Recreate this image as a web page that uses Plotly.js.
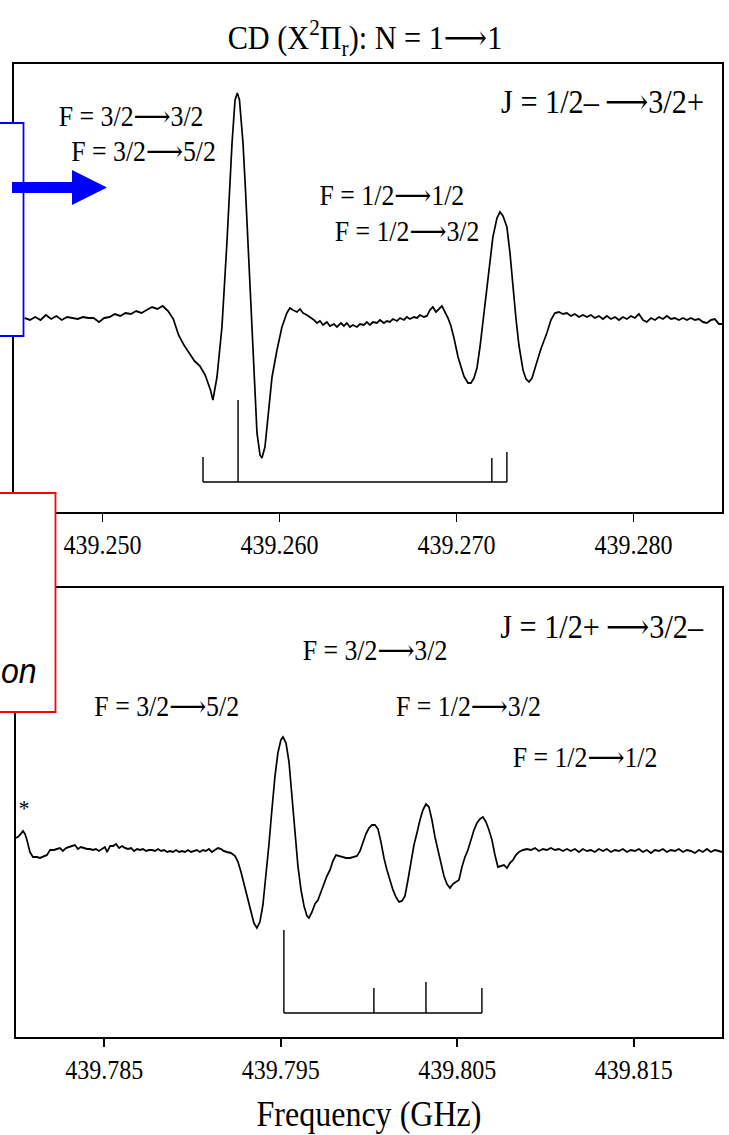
<!DOCTYPE html>
<html>
<head>
<meta charset="utf-8">
<script src="https://cdn.plot.ly/plotly-3.0.1.min.js"></script>
<style>
  html, body { margin: 0; padding: 0; background: #ffffff; overflow: hidden; }
  #wrap { width: 729px; height: 1135px; overflow: hidden; }
  /* the figure is laid out wider and condensed horizontally, giving the narrow serif lettering */
  #chart { transform-origin: 0 0; }
</style>
</head>
<body>
<div id="wrap"><div id="chart"></div></div>
<script>
// ---- J = 1/2- -> 3/2+ component (upper panel) ----
const freqUpper = [
  439.2456, 439.2459, 439.2462, 439.2465, 439.2468, 439.2471, 439.2474, 439.2477, 439.2480, 439.2483,
  439.2486, 439.2489, 439.2492, 439.2495, 439.2498, 439.2501, 439.2504, 439.2507, 439.2510, 439.2513,
  439.2516, 439.2519, 439.2522, 439.2525, 439.2528, 439.2531, 439.2534, 439.2537, 439.2540, 439.2543,
  439.2546, 439.2549, 439.2552, 439.2555, 439.2558, 439.2561, 439.25624, 439.25647, 439.25675, 439.25703,
  439.25718, 439.25732, 439.25749, 439.25762, 439.25774, 439.25794, 439.25808, 439.25822, 439.25850, 439.25873,
  439.25890, 439.25901, 439.25918, 439.25929, 439.25958, 439.25986, 439.26014, 439.26042, 439.26059, 439.26076,
  439.26099, 439.26116, 439.26133, 439.26155, 439.26172, 439.26195, 439.26212, 439.26229, 439.26246, 439.26268,
  439.26285, 439.26308, 439.26325, 439.26347, 439.26364, 439.26381, 439.26398, 439.26415, 439.26438, 439.26455,
  439.26477, 439.26494, 439.26511, 439.26528, 439.26551, 439.26568, 439.26590, 439.26607, 439.26624, 439.26641,
  439.26664, 439.26681, 439.26703, 439.26720, 439.26737, 439.26760, 439.26777, 439.26794, 439.26816, 439.26833,
  439.26850, 439.26867, 439.26884, 439.26901, 439.26918, 439.26935, 439.26952, 439.26969, 439.26986, 439.27009,
  439.27026, 439.27042, 439.27065, 439.27082, 439.27099, 439.27116, 439.27133, 439.27155, 439.27172, 439.27189,
  439.27206, 439.27229, 439.27246, 439.27263, 439.27285, 439.27302, 439.27319, 439.27336, 439.27353, 439.27376,
  439.27393, 439.27410, 439.27427, 439.27444, 439.27461, 439.27477, 439.27494, 439.27511, 439.27534, 439.27556,
  439.27579, 439.27602, 439.27624, 439.27647, 439.27669, 439.27692, 439.27715, 439.27737, 439.27760, 439.27782,
  439.27805, 439.27828, 439.27850, 439.27873, 439.27896, 439.27918, 439.27941, 439.27963, 439.27986, 439.28008,
  439.28031, 439.28054, 439.28076, 439.28099, 439.28122, 439.28144, 439.28167, 439.28189, 439.28212, 439.28234,
  439.28257, 439.28280, 439.28302, 439.28325, 439.28347, 439.28370, 439.28393, 439.28415, 439.28438, 439.28460,
  439.28483, 439.28500
];
const signalUpper = [
  0.02, 0.00, 0.03, 0.00, 0.05, 0.01, 0.04, 0.00, 0.03, 0.02,
  0.01, 0.03, 0.02, 0.02, -0.02, 0.02, 0.03, 0.06, 0.04, 0.07,
  0.06, 0.09, 0.07, 0.10, 0.13, 0.11, 0.14, 0.09, 0.01, -0.15,
  -0.25, -0.33, -0.41, -0.46, -0.55, -0.70, -0.80, -0.57, -0.07, 0.77,
  1.30, 1.77, 2.20, 2.27, 2.20, 1.77, 1.30, 0.77, -0.40, -1.13,
  -1.35, -1.38, -1.27, -1.07, -0.57, -0.30, -0.07, 0.07, 0.12, 0.10,
  0.08, 0.11, 0.07, 0.05, 0.03, 0.00, -0.03, -0.01, -0.05, -0.02,
  -0.06, -0.04, -0.07, -0.03, -0.06, -0.03, -0.07, -0.05, -0.07, -0.04,
  -0.05, -0.02, -0.05, -0.02, -0.03, 0.00, -0.03, -0.01, -0.02, 0.01,
  -0.01, 0.02, 0.00, 0.03, 0.01, 0.03, 0.02, 0.05, 0.03, 0.04,
  0.10, 0.13, 0.08, 0.11, 0.14, 0.08, 0.02, -0.06, -0.18, -0.37,
  -0.47, -0.56, -0.63, -0.63, -0.58, -0.48, -0.27, 0.05, 0.33, 0.58,
  0.83, 1.02, 1.08, 1.04, 0.93, 0.68, 0.33, 0.02, -0.25, -0.50,
  -0.59, -0.62, -0.58, -0.48, -0.37, -0.29, -0.21, -0.13, 0.00, 0.07,
  0.08, 0.06, 0.07, 0.04, 0.06, 0.03, 0.05, 0.03, 0.05, 0.02,
  0.04, 0.01, 0.04, 0.01, 0.03, 0.00, 0.03, 0.01, 0.04, 0.02,
  0.06, 0.00, -0.02, 0.02, 0.00, 0.03, 0.01, 0.04, 0.01, 0.02,
  0.00, 0.02, 0.00, 0.02, 0.00, 0.01, -0.02, -0.03, 0.00, 0.01,
  -0.04, -0.04
];
// hyperfine line positions and relative strengths (stick spectrum)
const stickFreqUpper = [439.25568, 439.25766, 439.27200, 439.27285];
const stickTopUpper  = [-1.37, -0.80, -1.38, -1.32];
const stickBaseUpper = -1.62;
const tickValsUpper  = [439.250, 439.260, 439.270, 439.280];
const tickTextUpper  = ['439.250', '439.260', '439.270', '439.280'];

// ---- J = 1/2+ -> 3/2- component (lower panel) ----
const freqLower = [
  439.78000, 439.78017, 439.78040, 439.78051, 439.78062, 439.78079, 439.78096, 439.78119, 439.78136, 439.78159,
  439.78176, 439.78193, 439.78215, 439.78232, 439.78249, 439.78266, 439.78283, 439.78300, 439.78317, 439.78334,
  439.78351, 439.78368, 439.78385, 439.78402, 439.78419, 439.78436, 439.78453, 439.78470, 439.78487, 439.78504,
  439.78516, 439.78533, 439.78550, 439.78567, 439.78584, 439.78601, 439.78618, 439.78635, 439.78652, 439.78669,
  439.78686, 439.78703, 439.78720, 439.78737, 439.78754, 439.78771, 439.78788, 439.78805, 439.78822, 439.78839,
  439.78856, 439.78873, 439.78890, 439.78907, 439.78924, 439.78941, 439.78958, 439.78975, 439.78992, 439.79008,
  439.79025, 439.79042, 439.79059, 439.79076, 439.79093, 439.79110, 439.79127, 439.79144, 439.79161, 439.79178,
  439.79195, 439.79218, 439.79241, 439.79258, 439.79275, 439.79297, 439.79314, 439.79331, 439.79348, 439.79365,
  439.79382, 439.79399, 439.79416, 439.79433, 439.79450, 439.79467, 439.79484, 439.79501, 439.79513, 439.79530,
  439.79547, 439.79564, 439.79581, 439.79598, 439.79615, 439.79632, 439.79649, 439.79660, 439.79677, 439.79694,
  439.79711, 439.79728, 439.79745, 439.79762, 439.79779, 439.79796, 439.79813, 439.79830, 439.79847, 439.79870,
  439.79893, 439.79915, 439.79932, 439.79949, 439.79966, 439.79983, 439.80000, 439.80017, 439.80034, 439.80051,
  439.80068, 439.80085, 439.80102, 439.80119, 439.80136, 439.80153, 439.80170, 439.80187, 439.80204, 439.80221,
  439.80238, 439.80255, 439.80272, 439.80289, 439.80306, 439.80323, 439.80340, 439.80357, 439.80374, 439.80391,
  439.80408, 439.80425, 439.80442, 439.80459, 439.80476, 439.80493, 439.80510, 439.80527, 439.80544, 439.80561,
  439.80578, 439.80595, 439.80612, 439.80629, 439.80646, 439.80663, 439.80680, 439.80697, 439.80714, 439.80731,
  439.80748, 439.80765, 439.80782, 439.80799, 439.80816, 439.80833, 439.80850, 439.80873, 439.80895, 439.80918,
  439.80941, 439.80963, 439.80986, 439.81008, 439.81031, 439.81054, 439.81076, 439.81099, 439.81122, 439.81144,
  439.81167, 439.81190, 439.81212, 439.81235, 439.81258, 439.81280, 439.81303, 439.81326, 439.81348, 439.81371,
  439.81394, 439.81416, 439.81439, 439.81462, 439.81484, 439.81507, 439.81530, 439.81552, 439.81575, 439.81598,
  439.81620, 439.81643, 439.81666, 439.81688, 439.81711, 439.81734, 439.81756, 439.81779, 439.81802, 439.81824,
  439.81847, 439.81870, 439.81892, 439.81915, 439.81938, 439.81960, 439.81983, 439.82000
];
const signalLower = [
  0.14, 0.16, 0.21, 0.18, 0.12, 0.00, -0.05, -0.05, -0.06, -0.04,
  -0.03, 0.02, 0.02, 0.03, 0.04, 0.01, 0.04, 0.05, 0.06, 0.07,
  0.03, 0.05, 0.04, 0.03, 0.03, 0.02, 0.03, 0.01, 0.03, 0.05,
  0.00, 0.06, 0.06, 0.08, 0.04, 0.06, 0.04, 0.03, 0.04, 0.01,
  0.03, 0.02, 0.03, 0.01, 0.02, 0.02, 0.01, 0.03, 0.01, 0.02,
  0.00, 0.01, 0.00, 0.02, 0.00, 0.01, 0.00, 0.02, 0.00, 0.01,
  0.02, 0.00, 0.02, 0.01, 0.03, 0.00, 0.02, 0.04, 0.03, 0.01,
  0.00, -0.01, -0.04, -0.10, -0.20, -0.35, -0.48, -0.60, -0.71, -0.76,
  -0.70, -0.53, -0.26, 0.07, 0.42, 0.75, 0.99, 1.12, 1.15, 1.09,
  0.90, 0.57, 0.19, -0.15, -0.38, -0.54, -0.64, -0.66, -0.60, -0.52,
  -0.48, -0.40, -0.32, -0.24, -0.18, -0.09, -0.03, -0.04, -0.05, -0.06,
  -0.06, -0.05, -0.04, 0.01, 0.09, 0.18, 0.24, 0.27, 0.27, 0.23,
  0.10, -0.06, -0.18, -0.29, -0.38, -0.45, -0.50, -0.49, -0.44, -0.28,
  -0.10, 0.07, 0.19, 0.32, 0.42, 0.48, 0.45, 0.32, 0.15, 0.01,
  -0.12, -0.24, -0.32, -0.36, -0.32, -0.30, -0.28, -0.15, -0.05, 0.02,
  0.12, 0.22, 0.29, 0.33, 0.35, 0.30, 0.22, 0.12, -0.03, -0.15,
  -0.14, -0.13, -0.16, -0.11, -0.08, -0.03, 0.00, 0.02, 0.03, 0.02,
  0.04, 0.01, 0.03, 0.02, 0.04, 0.02, 0.03, 0.01, 0.03, 0.01,
  0.03, 0.00, 0.03, 0.01, 0.02, 0.00, 0.03, 0.01, 0.03, 0.00,
  0.02, 0.01, 0.03, 0.00, 0.02, 0.01, 0.03, 0.00, 0.02, -0.01,
  0.02, 0.01, 0.03, 0.00, 0.02, 0.01, 0.03, 0.00, 0.02, 0.01,
  -0.01, 0.02, 0.00, 0.03, 0.00, 0.02, 0.01, 0.00
];
const stickFreqLower = [439.79518, 439.80028, 439.80323, 439.80640];
const stickTopLower  = [-0.78, -1.36, -1.30, -1.36];
const stickBaseLower = -1.61;
const tickValsLower  = [439.785, 439.795, 439.805, 439.815];
const tickTextLower  = ['439.785', '439.795', '439.805', '439.815'];

// ---- page geometry ----
const W = 729, H = 1135;
const SQUEEZE = 0.89;              // horizontal condensing of the whole figure
const LW = W / SQUEEZE;            // layout width before condensing
const px = x => x / W;             // page pixel -> paper fraction (unchanged by the squeeze)
const py = y => 1 - y / H;

const SERIF = 'Liberation Serif, Times New Roman, DejaVu Serif, serif';
const INK = '#000000';
const ARROW = '\u27F6';
const THIN = '\u2009';

// stick spectrum: vertical bars on a common baseline joining the outer lines
function comb(freqs, tops, base) {
  const xs = [freqs[0], freqs[freqs.length - 1], null];
  const ys = [base, base, null];
  freqs.forEach((f, i) => { xs.push(f, f, null); ys.push(base, tops[i], null); });
  return { xs, ys };
}
const combUpper = comb(stickFreqUpper, stickTopUpper, stickBaseUpper);
const combLower = comb(stickFreqLower, stickTopLower, stickBaseLower);

const traces = [
  { x: freqUpper, y: signalUpper, xaxis: 'x', yaxis: 'y', type: 'scatter', mode: 'lines',
    line: { color: INK, width: 1.9 }, hoverinfo: 'skip' },
  { x: combUpper.xs, y: combUpper.ys, xaxis: 'x', yaxis: 'y', type: 'scatter', mode: 'lines',
    line: { color: INK, width: 1.6 }, connectgaps: false, hoverinfo: 'skip' },
  { x: freqLower, y: signalLower, xaxis: 'x2', yaxis: 'y2', type: 'scatter', mode: 'lines',
    line: { color: INK, width: 1.9 }, hoverinfo: 'skip' },
  { x: combLower.xs, y: combLower.ys, xaxis: 'x2', yaxis: 'y2', type: 'scatter', mode: 'lines',
    line: { color: INK, width: 1.6 }, connectgaps: false, hoverinfo: 'skip' }
];

const frameX = {
  showline: true, mirror: true, linecolor: INK, linewidth: 2,
  ticks: 'outside', ticklen: 8, tickwidth: 2, tickcolor: INK,
  tickmode: 'array', tickfont: { family: SERIF, size: 27, color: INK },
  showgrid: false, zeroline: false, fixedrange: true
};
const frameY = {
  showline: true, mirror: true, linecolor: INK, linewidth: 2.2,
  ticks: '', showticklabels: false, showgrid: false, zeroline: false, fixedrange: true
};

function label(text, cx, cy, size, extra) {
  return Object.assign({
    text, xref: 'paper', yref: 'paper', x: px(cx), y: py(cy),
    xanchor: 'center', yanchor: 'middle', showarrow: false,
    font: { family: SERIF, size, color: INK }
  }, extra || {});
}

const annotations = [
  label('J = 1/2–' + THIN + ARROW + '3/2+', 603, 101, 34),
  label('F = 3/2' + ARROW + '3/2', 131, 116, 29),
  label('F = 3/2' + ARROW + '5/2', 144, 151, 29),
  label('F = 1/2' + ARROW + '1/2', 392, 195, 29),
  label('F = 1/2' + ARROW + '3/2', 407, 231, 29),
  label('J = 1/2+' + THIN + ARROW + '3/2–', 602, 626, 34),
  label('F = 3/2' + ARROW + '3/2', 375, 650, 29),
  label('F = 3/2' + ARROW + '5/2', 167, 706, 29),
  label('F = 1/2' + ARROW + '3/2', 469, 706, 29),
  label('F = 1/2' + ARROW + '1/2', 585, 757, 29),
  label('*', 24, 808, 24),
  { text: 'on', xref: 'paper', yref: 'paper', x: px(0), y: py(670),
    xanchor: 'left', yanchor: 'middle', showarrow: false, borderpad: 0,
    font: { family: 'Liberation Sans, Arial, sans-serif', size: 36, style: 'italic', color: INK } }
];

// blue call-out arrow
const arrowPts = [[12, 182], [72, 182], [72, 170], [107, 187.5], [72, 205], [72, 193], [12, 193]];
const arrowPath = 'M ' + arrowPts.map(p => px(p[0]) + ',' + py(p[1])).join(' L ') + ' Z';

const shapes = [
  { type: 'rect', xref: 'paper', yref: 'paper', layer: 'above',
    x0: px(-20), x1: px(23.5), y0: py(336), y1: py(123),
    line: { color: '#0000ff', width: 2 }, fillcolor: '#ffffff' },
  { type: 'path', xref: 'paper', yref: 'paper', layer: 'above', path: arrowPath,
    line: { color: '#0000ff', width: 0 }, fillcolor: '#0000ff' },
  { type: 'rect', xref: 'paper', yref: 'paper', layer: 'above',
    x0: px(-20), x1: px(55.5), y0: py(712), y1: py(493),
    line: { color: '#ff0000', width: 2 }, fillcolor: '#ffffff' }
];

const layout = {
  width: LW, height: H,
  margin: { l: 0, r: 0, t: 0, b: 0 },
  paper_bgcolor: '#ffffff', plot_bgcolor: '#ffffff',
  showlegend: false,
  title: { text: 'CD (X<sup>2</sup>Π<sub>r</sub>): N = 1' + ARROW + '1', x: px(365), xanchor: 'center',
           y: py(37), yanchor: 'middle', font: { family: SERIF, size: 34, color: INK } },
  xaxis: Object.assign({}, frameX, { domain: [px(14), px(722)], anchor: 'y',
           range: [439.245, 439.285], tickvals: tickValsUpper, ticktext: tickTextUpper }),
  yaxis: Object.assign({}, frameY, { domain: [py(512), py(64)], anchor: 'x', range: [-1.92, 2.56] }),
  xaxis2: Object.assign({}, frameX, { domain: [px(16), px(722)], anchor: 'y2',
           range: [439.780, 439.820], tickvals: tickValsLower, ticktext: tickTextLower,
           title: { text: 'Frequency (GHz)', font: { family: SERIF, size: 36, color: INK }, standoff: 16 } }),
  yaxis2: Object.assign({}, frameY, { domain: [py(1037), py(588)], anchor: 'x2', range: [-1.85, 2.64] }),
  annotations, shapes
};

const chart = document.getElementById('chart');
chart.style.width = LW + 'px';
chart.style.height = H + 'px';
chart.style.transform = 'scaleX(' + SQUEEZE + ')';
Plotly.newPlot(chart, traces, layout, { staticPlot: true, displayModeBar: false });
</script>
</body>
</html>
